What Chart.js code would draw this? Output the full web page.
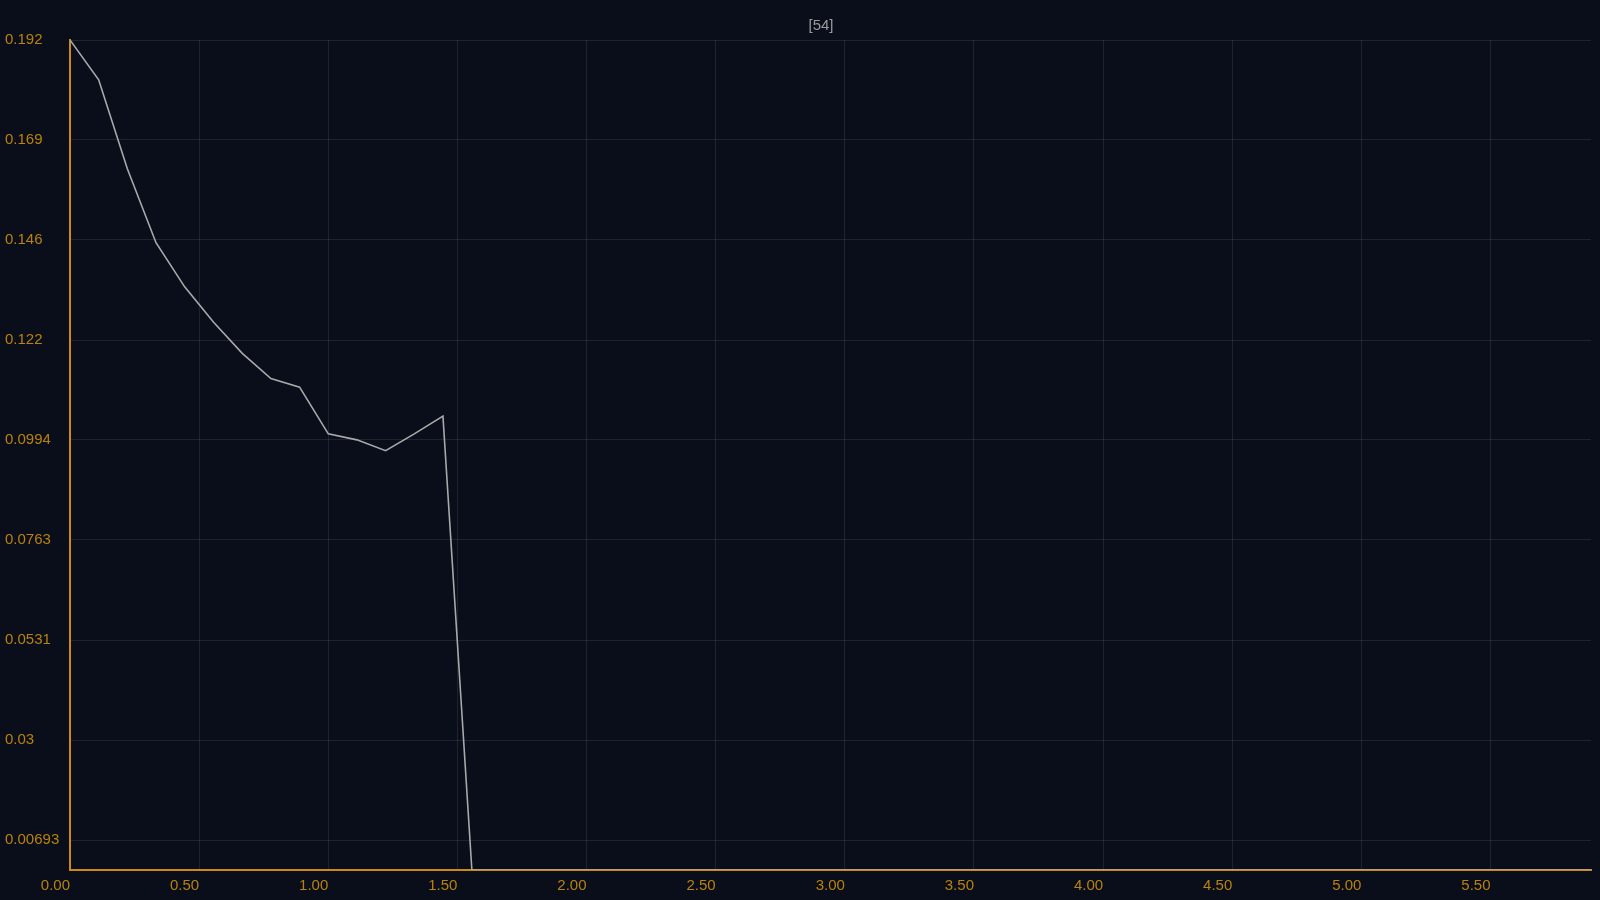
<!DOCTYPE html>
<html>
<head>
<meta charset="utf-8">
<script src="https://cdn.jsdelivr.net/npm/chart.js@4.4.1/dist/chart.umd.min.js"></script>
<style>
  html, body { margin: 0; padding: 0; background: #0a0e1a; }
  #wrap { width: 1600px; height: 900px; position: relative; }
</style>
</head>
<body>
<div id="wrap"><canvas id="c"></canvas></div>
<script>
const titleText = '[54]';
const xValues = [0.000, 0.111, 0.222, 0.333, 0.444, 0.556, 0.667, 0.778, 0.889, 1.000,
  1.111, 1.222, 1.333, 1.444, 1.556, 1.667, 1.778, 1.889, 2.000, 2.111,
  2.222, 2.333, 2.444, 2.556, 2.667, 2.778, 2.889, 3.000, 3.111, 3.222,
  3.333, 3.444, 3.556, 3.667, 3.778, 3.889, 4.000, 4.111, 4.222, 4.333,
  4.444, 4.556, 4.667, 4.778, 4.889, 5.000, 5.111, 5.222, 5.333, 5.444,
  5.556, 5.667, 5.778, 5.889];
const yValues = [0.192, 0.1828, 0.1622, 0.1451, 0.1349, 0.1267, 0.1195, 0.1137, 0.1117, 0.1009,
  0.0995, 0.0970, 0.1009, 0.1050, 0, 0, 0, 0, 0, 0,
  0, 0, 0, 0, 0, 0, 0, 0, 0, 0,
  0, 0, 0, 0, 0, 0, 0, 0, 0, 0,
  0, 0, 0, 0, 0, 0, 0, 0, 0, 0,
  0, 0, 0, 0];
const xTicks = [0, 0.5, 1, 1.5, 2, 2.5, 3, 3.5, 4, 4.5, 5, 5.5];
const yTicks = [0.00693, 0.03007, 0.0532, 0.07634, 0.09947, 0.1226, 0.14574, 0.16887, 0.192];
const yTickLabels = ['0.00693', '0.03', '0.0531', '0.0763', '0.0994', '0.122', '0.146', '0.169', '0.192'];
const yMin = 0, yMax = 0.192;

const points = xValues.map((x, i) => ({ x: x, y: yValues[i] }));

const bgPlugin = {
  id: 'bg',
  beforeDraw(chart) {
    const ctx = chart.ctx;
    ctx.save();
    ctx.fillStyle = '#0a0e1a';
    ctx.fillRect(0, 0, chart.width, chart.height);
    ctx.restore();
  },
  afterLayout(chart) {
    const t = chart.titleBlock;
    if (t) { t.left += 23; t.right += 23; }
  }
};

const gridColor = 'rgba(255,255,255,0.09)';
const labelColor = '#b8820c';
const axisColor = '#cc8a0e';
const fontFamily = "'Liberation Sans', Arial, Helvetica, sans-serif";

new Chart(document.getElementById('c'), {
  type: 'line',
  data: {
    datasets: [{
      data: points,
      borderColor: '#a9a9a9',
      borderWidth: 1.6,
      pointRadius: 0,
      pointHoverRadius: 0,
      tension: 0,
      fill: false
    }]
  },
  options: {
    responsive: true,
    maintainAspectRatio: false,
    animation: false,
    events: [],
    layout: { padding: { left: 5, right: 9, top: 0, bottom: 0 } },
    plugins: {
      legend: { display: false },
      tooltip: { enabled: false },
      title: {
        display: true,
        text: titleText,
        color: '#9a9a9a',
        font: { family: fontFamily, size: 15, weight: 'normal', lineHeight: 1.2 },
        padding: { top: 17, bottom: 5 }
      }
    },
    scales: {
      x: {
        type: 'linear',
        min: xValues[0],
        max: xValues[xValues.length - 1],
        afterBuildTicks(scale) { scale.ticks = xTicks.map(v => ({ value: v })); },
        afterFit(scale) { scale.height = 30; },
        grid: { color: gridColor, drawTicks: false, lineWidth: 1 },
        border: { display: true, color: axisColor, width: 2 },
        ticks: {
          align: 'end',
          padding: 7,
          color: labelColor,
          maxRotation: 0,
          autoSkip: false,
          font: { family: fontFamily, size: 15 },
          callback: (v) => Number(v).toFixed(2)
        }
      },
      y: {
        type: 'linear',
        min: yMin,
        max: yMax,
        afterBuildTicks(scale) { scale.ticks = yTicks.map(v => ({ value: v })); },
        afterFit(scale) { scale.width = 65; },
        grid: { color: gridColor, drawTicks: false, lineWidth: 1 },
        border: { display: true, color: axisColor, width: 2 },
        ticks: {
          crossAlign: 'far',
          padding: 6,
          color: labelColor,
          autoSkip: false,
          font: { family: fontFamily, size: 15 },
          callback: (v, i) => yTickLabels[i]
        }
      }
    }
  },
  plugins: [bgPlugin]
});
</script>
</body>
</html>
